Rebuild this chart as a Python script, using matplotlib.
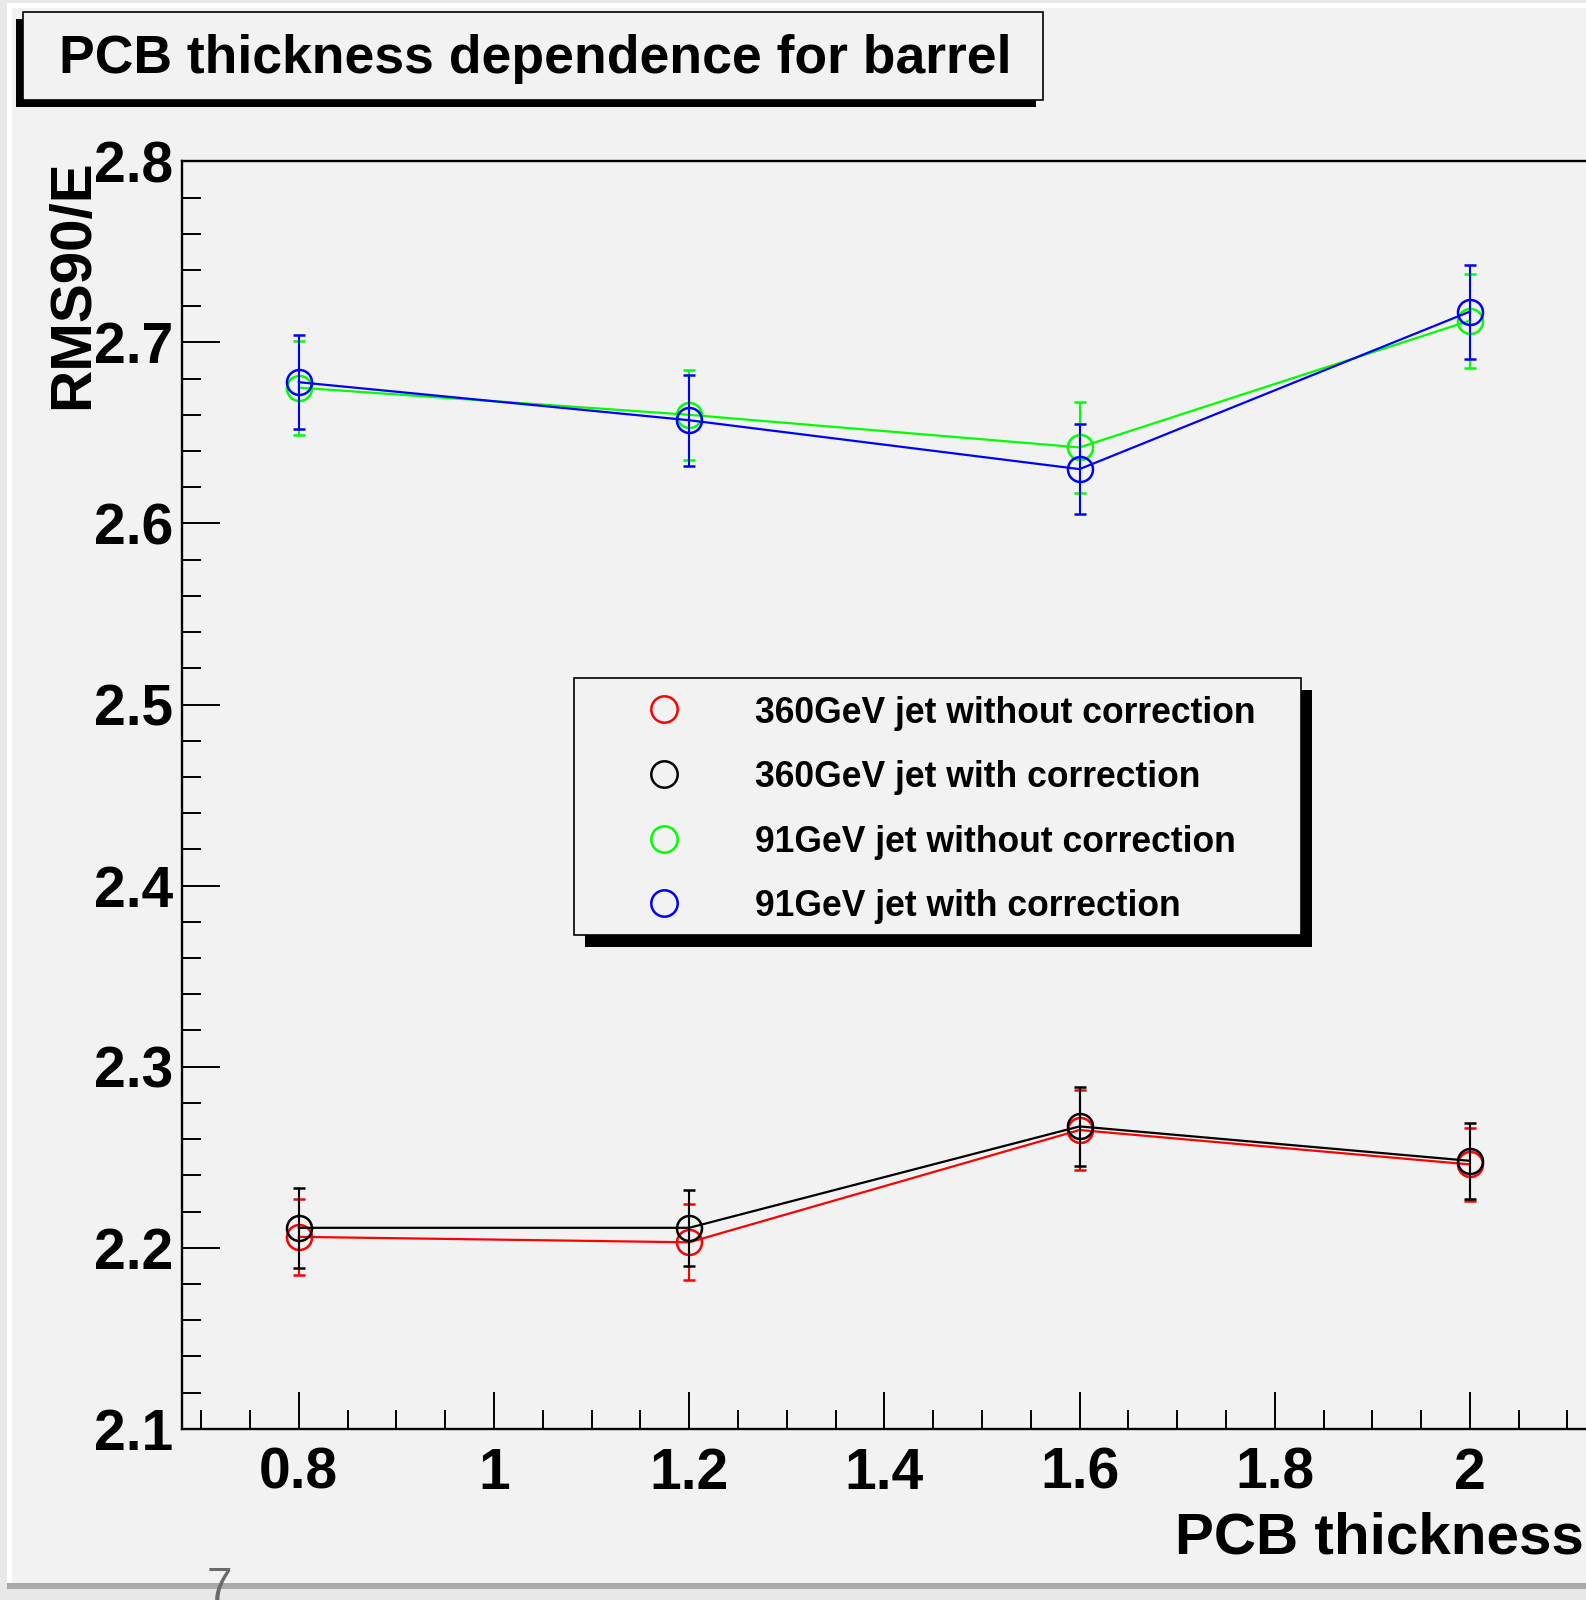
import matplotlib
matplotlib.use('Agg')
import matplotlib.pyplot as plt
from matplotlib.patches import Rectangle
from matplotlib.ticker import MultipleLocator, FuncFormatter

plt.rcParams['font.family'] = ['Liberation Sans', 'DejaVu Sans']
plt.rcParams['font.weight'] = 'bold'

# PCB thickness scan, RMS90/E for each jet sample
thickness = [0.8, 1.2, 1.6, 2.0]

jet360_nocorr = [2.206, 2.203, 2.265, 2.246]
jet360_nocorr_err = [0.021, 0.021, 0.022, 0.020]
jet360_corr = [2.211, 2.211, 2.267, 2.248]
jet360_corr_err = [0.022, 0.021, 0.022, 0.021]
jet91_nocorr = [2.675, 2.660, 2.642, 2.712]
jet91_nocorr_err = [0.026, 0.025, 0.025, 0.026]
jet91_corr = [2.678, 2.657, 2.630, 2.717]
jet91_corr_err = [0.026, 0.025, 0.025, 0.026]

labels = ['360GeV jet without correction', '360GeV jet with correction',
          '91GeV jet without correction', '91GeV jet with correction']
colors = ['#ff0000', '#000000', '#00ff00', '#0000ff']
series = [(jet360_nocorr, jet360_nocorr_err), (jet360_corr, jet360_corr_err),
          (jet91_nocorr, jet91_nocorr_err), (jet91_corr, jet91_corr_err)]

W, H = 1586, 1600
fig = plt.figure(figsize=(W / 100, H / 100), dpi=100)
fig.patch.set_facecolor('#e8e8e8')

# page background: white margin, grey canvas, bottom shadow bar
bg = fig.add_axes([0, 0, 1, 1], zorder=0)
bg.set_xlim(0, W)
bg.set_ylim(H, 0)
bg.axis('off')
bg.add_patch(Rectangle((7, 3), W - 7, 1580, facecolor='white', edgecolor='none'))
bg.add_patch(Rectangle((12, 8), W - 12, 1575, facecolor='#f2f2f2', edgecolor='none'))
bg.add_patch(Rectangle((7, 1583), W - 7, 6, facecolor='#a9a9a9', edgecolor='none'))

# main frame
ax = fig.add_axes([181.7 / W, 1 - 1428.8 / H, (1587 - 181.7) / W, (1428.8 - 161.3) / H], zorder=1)
ax.patch.set_alpha(0)

for i, ((yv, ye), c) in enumerate(zip(series, colors)):
    ax.errorbar(thickness, yv, yerr=ye, color=c, marker='o', mfc='none', mec=c,
                ms=18, mew=1.8, lw=1.6, elinewidth=1.5, capsize=4.3, capthick=1.5,
                zorder=2 + i)

ax.set_xlim(0.68, 2.12)
ax.set_ylim(2.1, 2.8)
ax.xaxis.set_major_locator(MultipleLocator(0.2))
ax.xaxis.set_minor_locator(MultipleLocator(0.05))
ax.yaxis.set_major_locator(MultipleLocator(0.1))
ax.yaxis.set_minor_locator(MultipleLocator(0.02))
fmt = FuncFormatter(lambda v, p: '%g' % round(v, 3))
ax.xaxis.set_major_formatter(fmt)
ax.yaxis.set_major_formatter(fmt)
ax.tick_params(which='both', direction='in', width=1.4, top=False, right=False)
ax.tick_params(which='major', length=27, labelsize=41)
ax.tick_params(which='minor', length=13.5)
ax.tick_params(axis='x', which='major', pad=13)
ax.tick_params(axis='y', which='major', pad=6)
ax.spines['right'].set_visible(False)
for s in ['left', 'bottom', 'top']:
    ax.spines[s].set_linewidth(1.7)

# overlay for title pave, legend and axis titles
ov = fig.add_axes([0, 0, 1, 1], zorder=3)
ov.set_xlim(0, W)
ov.set_ylim(H, 0)
ov.axis('off')
ov.patch.set_alpha(0)

# title pave with shadow
ov.add_patch(Rectangle((22.5 - 7, 12 + 7), 1043 - 22.5, 100 - 12, facecolor='black', edgecolor='none'))
ov.add_patch(Rectangle((22.5, 12), 1043 - 22.5, 100 - 12, facecolor='#f2f2f2',
                       edgecolor='black', lw=1.2))
ov.text(59, 73.5, 'PCB thickness dependence for barrel', fontsize=38.5,
        ha='left', va='baseline')

# legend with shadow
lx0, ly0, lx1, ly1 = 573.6, 677.7, 1301, 935
ov.add_patch(Rectangle((lx0 + 11, ly0 + 12), lx1 - lx0, ly1 - ly0, facecolor='black', edgecolor='none'))
ov.add_patch(Rectangle((lx0, ly0), lx1 - lx0, ly1 - ly0, facecolor='#f2f2f2',
                       edgecolor='black', lw=1.2))
row_y = [709.3, 773.6, 839.0, 903.2]
for yc, lab, c in zip(row_y, labels, colors):
    ov.plot([664.4], [yc], 'o', mfc='none', mec=c, ms=19, mew=1.8)
    ov.text(755, yc + 13.3, lab, fontsize=25.6, ha='left', va='baseline')

# axis titles
ov.text(1584, 1554, 'PCB thickness', fontsize=42, ha='right', va='baseline')
ov.text(88, 159, 'RMS90/E', fontsize=42, rotation=90, rotation_mode='anchor',
        ha='right', va='baseline')

# page number
ov.text(207, 1600, '7', fontsize=33, color='#6a6a6a', fontweight='normal',
        ha='left', va='baseline', zorder=10)

fig.savefig('out.png', dpi=100, facecolor=fig.get_facecolor())
